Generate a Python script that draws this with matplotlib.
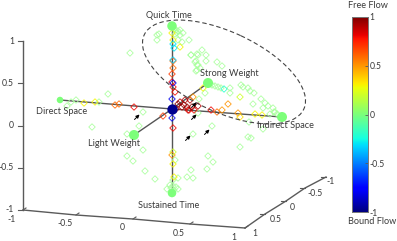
#!/usr/bin/env python3
"""Effort space scatter, projected view, with a jet colorbar for flow."""
import matplotlib
matplotlib.use("Agg")
import matplotlib.pyplot as plt
import numpy as np
from matplotlib.patches import Ellipse

plt.rcParams["font.family"] = ["Lato", "DejaVu Sans"]

# projected point positions, with the flow value of each
green_x = [130, 157, 159, 157, 177, 180, 183, 178, 182, 189, 191, 197, 195, 198, 197,
           76, 71, 67, 99, 108, 143, 191, 198, 202, 206, 206, 196, 197, 196, 200, 217,
           222, 218, 221, 230, 230, 241, 243, 248, 250, 254, 261, 253, 265, 268, 263,
           273, 275, 205, 199, 198, 270, 212, 193, 248, 251, 240, 208, 213, 207, 191,
           187, 193, 178, 155, 249, 263, 175, 167, 170, 176, 178, 174, 92, 127, 139,
           127, 133, 143, 145, 173,
           174, 176, 178, 180, 175, 212, 215, 277, 274, 171, 173]
green_y = [53, 35, 34, 40, 33, 35, 33, 40, 42, 40, 55, 54, 62, 65, 70,
           100, 102, 106, 102, 94, 112, 55, 55, 50, 55, 61, 61, 65, 71, 68, 62,
           66, 87, 88, 88, 93, 85, 87, 88, 91, 93, 99, 104, 103, 106, 108,
           108, 112, 93, 99, 113, 114, 126, 134, 137, 138, 147, 156, 162, 169, 170,
           177, 178, 178, 179, 122, 129, 160, 189, 185, 187, 189, 190, 127, 134, 126,
           156, 161, 150, 171, 180,
           29, 30, 31, 30, 34, 85, 86, 114, 112, 188, 186]

warm_x = [172, 173, 180, 173, 173, 172, 172, 173, 175, 84, 95, 115, 119, 134, 163,
          180, 185, 190, 182, 187, 194, 188, 193, 189, 173, 211, 217, 228, 222, 203,
          240, 238, 240, 255, 262, 172, 173, 173, 174, 178, 184, 176, 192, 198]
warm_y = [33, 40, 47, 61, 68, 74, 82, 87, 92, 103, 102, 105, 104, 107, 116,
          102, 100, 100, 107, 107, 110, 110, 97, 110, 128, 110, 112, 104, 110, 88,
          97, 113, 117, 114, 115, 155, 152, 164, 177, 104, 105, 109, 107, 106]
warm_val = [0.3, 0.3, 0.3, 0.6, 0.6, 0.7, 0.8, 0.8, 0.8, 0.3, 0.3, 0.6, 0.6, 0.8, 0.7,
            0.9, 0.9, 0.9, 0.9, 0.9, 0.8, 0.9, 0.5, 0.8, 0.8, 0.8, 0.6, 0.5, 0.5, 0.3,
            0.2, 0.5, 0.35, 0.3, 0.3, 0.5, 0.2, 0.3, 0.3, 1.0, 1.0, 0.95, 1.0, 0.9]

cold_x = [173, 174, 173, 172, 172, 173, 224]
cold_y = [44, 48, 60, 99, 118, 83, 89]
cold_val = [-0.3, -0.3, -0.35, -0.8, -0.8, -0.8, -0.2]

# effort poles
pole_names = ["Quick Time", "Sustained Time", "Direct Space", "Indirect Space",
              "Strong Weight", "Light Weight"]
pole_x = [172, 172, 60, 282, 208, 134]
pole_y = [26, 193, 100, 117, 83, 135]
pole_size = [47, 38, 22, 52, 52, 52]
label_x = [169, 169, 62, 285, 229, 114]
label_y = [15, 205, 112, 126, 74, 144]
center_x, center_y = 172, 109

arrow_x = [137, 194, 194, 207, 188]
arrow_y = [117, 105, 117, 132, 138]

# axes of the box
z_ticks_y = [41, 83, 126, 168, 210]
z_labels = ["1", "0.5", "0", "-0.5", "-1"]
bottom_ticks_x = [23, 76, 133, 190, 245]
bottom_ticks_y = [210, 215, 219, 224, 228]
bottom_labels = ["-1", "-0.5", "0", "0.5", "1"]
right_ticks_x = [245, 265, 286, 305, 326]
right_ticks_y = [228, 214, 201, 188, 177]
right_labels = ["1", "0.5", "0", "-0.5", "-1"]
right_label_x = [255, 276, 292, 315, 331]
right_label_y = [233, 219, 207, 194, 182]

cbar_ticks = [1, 0.5, 0, -0.5, -1]
cbar_labels = ["1", "0.5", "0", "-0.5", "-1"]

TEXT = "#3a3a3a"
AXIS = "#5a5a5a"
GREEN = "#7dff7a"

fig = plt.figure(figsize=(3.97, 2.41), dpi=100)
ax = fig.add_axes([0, 0, 1, 1])
ax.set_xlim(0, 397)
ax.set_ylim(241, 0)
ax.axis("off")

# box
ax.plot([23, 23], [z_ticks_y[0], z_ticks_y[-1]], color=AXIS, lw=1)
ax.plot(bottom_ticks_x, bottom_ticks_y, color=AXIS, lw=1)
ax.plot(right_ticks_x, right_ticks_y, color=AXIS, lw=1)
for y, lab in zip(z_ticks_y, z_labels):
    ax.plot([23, 18], [y, y], color=AXIS, lw=0.8)
    ax.text(14, y, lab, ha="right", va="center", fontsize=6.2, color=TEXT)
for x, y, lab in zip(bottom_ticks_x, bottom_ticks_y, bottom_labels):
    ax.plot([x, x + 3], [y, y - 2], color=AXIS, lw=0.8)
    ax.text(x - 11, y + 9, lab, ha="center", va="center", fontsize=6.2, color=TEXT)
for x, y in zip(right_ticks_x[1:], right_ticks_y[1:]):
    ax.plot([x, x - 5], [y, y], color=AXIS, lw=0.8)
for x, y, lab in zip(right_label_x, right_label_y, right_labels):
    ax.text(x, y, lab, ha="center", va="center", fontsize=6.2, color=TEXT)

# spokes through the center
for x, y in zip(pole_x, pole_y):
    ax.plot([center_x, x], [center_y, y], color="#555555", lw=1, zorder=2)

# open diamonds
ax.scatter(green_x, green_y, marker="D", s=11, facecolors="none", edgecolors="#a8ff9c",
           linewidths=0.55, zorder=3)
ax.scatter(warm_x, warm_y, marker="D", s=11, facecolors="none",
           edgecolors=plt.cm.jet((np.array(warm_val) + 1) / 2), linewidths=0.55, zorder=3)
ax.scatter(cold_x, cold_y, marker="D", s=11, facecolors="none",
           edgecolors=plt.cm.jet((np.array(cold_val) + 1) / 2), linewidths=0.55, zorder=3)

ax.scatter(pole_x, pole_y, s=pole_size, color=GREEN, zorder=4, linewidths=0)
ax.scatter([center_x], [center_y], s=55, color="#00008f", zorder=5, linewidths=0)

ax.add_patch(Ellipse((224, 72), 176, 80, angle=25, fill=False, ec="#444444", lw=0.8,
                     ls=(0, (4, 2.5)), zorder=3))

for x, y in zip(arrow_x, arrow_y):
    ax.annotate("", xy=(x + 2.5, y - 2.5), xytext=(x - 2.5, y + 2.5), zorder=6,
                arrowprops=dict(arrowstyle="-|>", color="black", lw=0.7,
                                mutation_scale=5, shrinkA=0, shrinkB=0))

for name, x, y in zip(pole_names, label_x, label_y):
    ax.text(x, y, name, ha="center", va="center", fontsize=6.6, color=TEXT, zorder=7)

# colorbar
cax = fig.add_axes([352 / 397, 1 - 212 / 241, 16 / 397, 195 / 241])
gradient = np.linspace(1, -1, 256).reshape(-1, 1)
cax.imshow(gradient, aspect="auto", cmap="jet", vmin=-1, vmax=1, extent=[0, 1, -1, 1])
cax.set_xticks([])
cax.yaxis.tick_right()
cax.set_yticks(cbar_ticks)
cax.set_yticklabels(cbar_labels, fontsize=6.2, color=TEXT)
cax.tick_params(axis="y", length=2, width=0.6, pad=1, direction="in", color=AXIS)
for spine in cax.spines.values():
    spine.set_color("#777777")
    spine.set_linewidth(0.7)
ax.text(368, 6, "Free Flow", ha="center", va="center", fontsize=6.6, color=TEXT)
ax.text(372, 222, "Bound Flow", ha="center", va="center", fontsize=6.6, color=TEXT)

fig.savefig("out.png", dpi=100)
